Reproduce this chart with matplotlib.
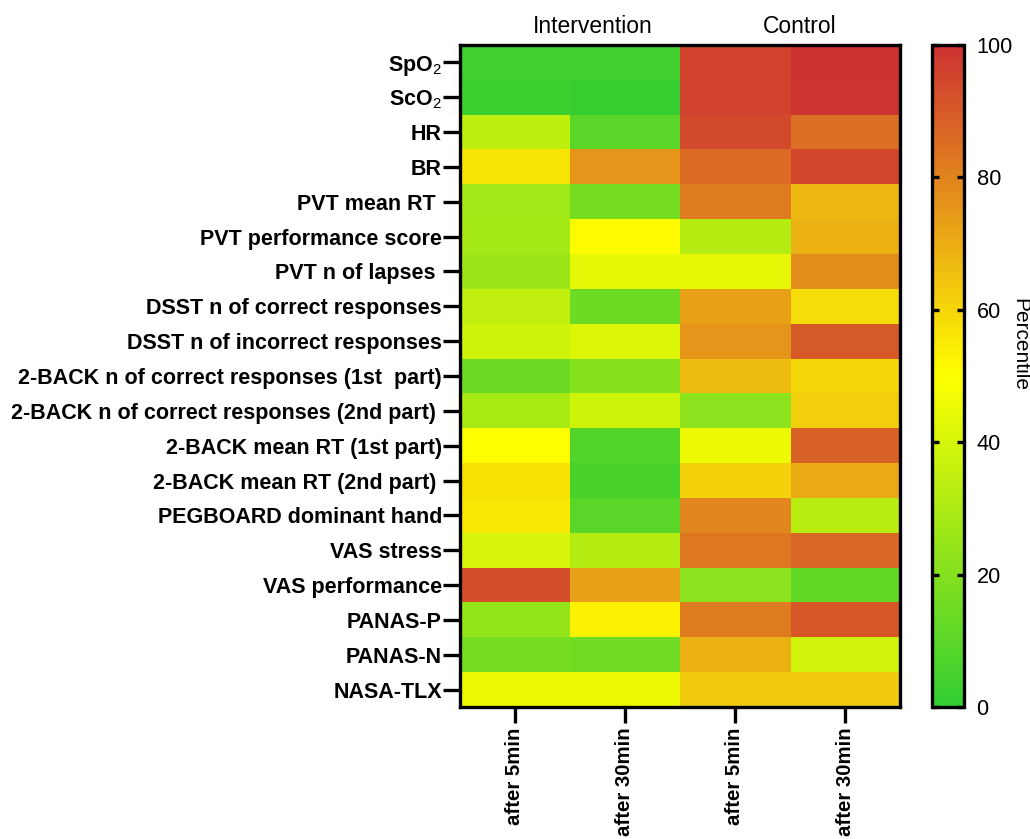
import numpy as np
import matplotlib
matplotlib.use("Agg")
import matplotlib.pyplot as plt
from matplotlib.colors import LinearSegmentedColormap

plt.rcParams['font.family'] = ['Liberation Sans', 'DejaVu Sans']
plt.rcParams['mathtext.fontset'] = 'custom'
plt.rcParams['mathtext.rm'] = 'Liberation Sans'
plt.rcParams['mathtext.it'] = 'Liberation Sans'
plt.rcParams['mathtext.bf'] = 'Liberation Sans:bold'

row_labels = [r"SpO$_2$", r"ScO$_2$", "HR", "BR", "PVT mean RT ", "PVT performance score",
              "PVT n of lapses ", "DSST n of correct responses", "DSST n of incorrect responses",
              "2-BACK n of correct responses (1st  part)", "2-BACK n of correct responses (2nd part) ",
              "2-BACK mean RT (1st part)", "2-BACK mean RT (2nd part) ", "PEGBOARD dominant hand",
              "VAS stress", "VAS performance", "PANAS-P", "PANAS-N", "NASA-TLX"]
col_labels = ["after 5min", "after 30min", "after 5min", "after 30min"]
groups = ["Intervention", "Control"]

intervention_5 = [4, 3.5, 34.6, 56.5, 27, 28, 25.6, 35, 38, 14, 29, 50, 57, 55.6, 40, 92.7, 24, 17, 46]
intervention_30 = [4, 1.5, 10, 75.6, 17, 51, 44, 14.6, 41.5, 20.7, 38, 8, 6, 10, 31.7, 72.7, 53, 15, 46]
control_5 = [96, 96, 94, 86, 82, 32, 44, 73, 75.6, 66, 22, 46, 61, 79, 83, 22, 81.7, 68.8, 63]
control_30 = [100, 99, 85, 94.6, 67, 69, 78, 58.5, 90, 60, 61.5, 88, 70.7, 33, 87, 12, 90.7, 39, 63]

data = np.array([intervention_5, intervention_30, control_5, control_30]).T

cmap = LinearSegmentedColormap.from_list("gyr", ["#32CD32", "#FFFF00", "#CD3232"])

W, H = 1030, 839
fig = plt.figure(figsize=(W/100, H/100), dpi=100)
ax = fig.add_axes([460/W, 1-707/H, 440/W, 662/H])
im = ax.imshow(data, cmap=cmap, vmin=0, vmax=100, aspect='auto', interpolation='nearest')

ax.set_yticks(np.arange(len(row_labels)))
ax.set_yticklabels(row_labels, fontsize=15.5, fontweight='bold')
ax.set_xticks(np.arange(len(col_labels)))
ax.set_xticklabels(col_labels, fontsize=14.7, fontweight='bold', rotation=90, va='top')
ax.tick_params(axis='y', width=2.4, length=12, pad=1)
ax.tick_params(axis='x', width=2.4, length=11.5, pad=3)
for s in ax.spines.values():
    s.set_linewidth(2.4)

fig.text(533/W, 1-33/H, groups[0], ha='left', va='baseline', fontsize=16.5)
fig.text(763/W, 1-33/H, groups[1], ha='left', va='baseline', fontsize=16.5)

cax = fig.add_axes([932/W, 1-707/H, 32/W, 662/H])
cb = fig.colorbar(im, cax=cax)
cb.set_ticks([0, 20, 40, 60, 80, 100])
cax.tick_params(axis='y', direction='in', left=True, right=True, width=2.4, length=5,
                labelsize=15.7, pad=9)
cb.outline.set_linewidth(2.4)
fig.text(1020/W, 1-345/H, "Percentile", rotation=270, ha='center', va='center', fontsize=15)

fig.savefig("out.png", dpi=100)
